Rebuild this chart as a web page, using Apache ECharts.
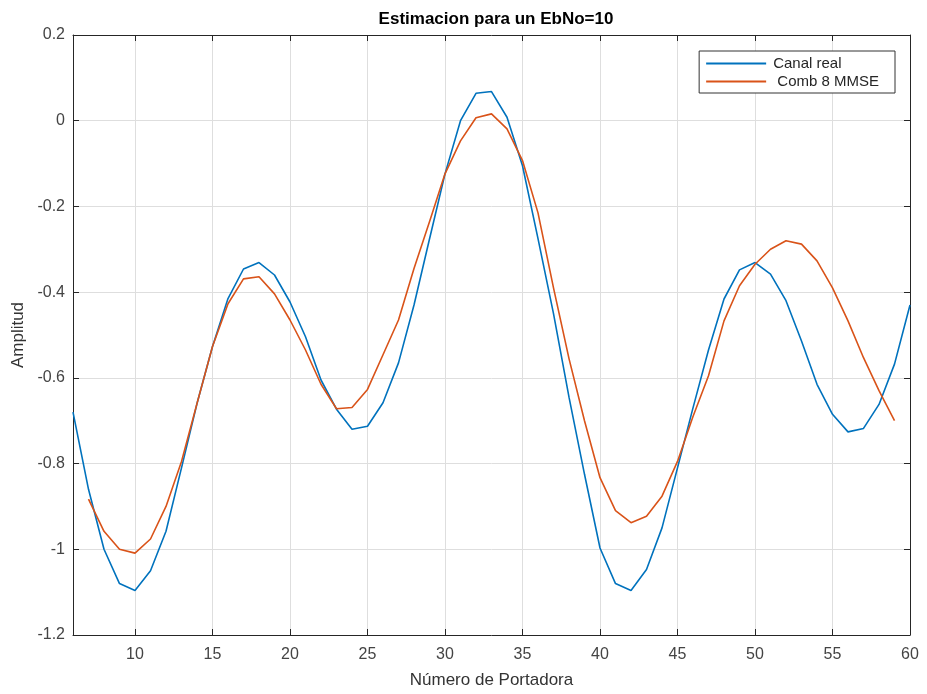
<!DOCTYPE html>
<html>
<head>
<meta charset="utf-8">
<title>Estimacion para un EbNo=10</title>
<script src="https://cdn.jsdelivr.net/npm/echarts@6/dist/echarts.min.js"></script>
<style>
  html, body { margin: 0; padding: 0; background: #fff; }
  #chart { width: 927px; height: 694px; }
</style>
</head>
<body>
<div id="chart"></div>
<script>
// portadoras (eje x)
var portReal = [6, 7, 8, 9, 10, 11, 12, 13, 14, 15, 16, 17, 18, 19, 20, 21, 22, 23, 24, 25, 26, 27, 28, 29, 30, 31, 32, 33,
  34, 35, 36, 37, 38, 39, 40, 41, 42, 43, 44, 45, 46, 47, 48, 49, 50, 51, 52, 53, 54, 55, 56, 57, 58, 59, 60];
var canalReal = [-0.68, -0.86, -1.0, -1.08, -1.096, -1.05, -0.958, -0.81, -0.66, -0.527, -0.415, -0.346, -0.331, -0.36,
  -0.423, -0.504, -0.605, -0.673, -0.72, -0.713, -0.658, -0.565, -0.43, -0.276, -0.124, 0.0, 0.064, 0.068, 0.008,
  -0.105, -0.275, -0.45, -0.645, -0.825, -0.997, -1.08, -1.096, -1.047, -0.95, -0.81, -0.67, -0.535, -0.416, -0.348,
  -0.331, -0.358, -0.42, -0.514, -0.615, -0.685, -0.726, -0.718, -0.662, -0.568, -0.43];

var portMmse = [7, 8, 9, 10, 11, 12, 13, 14, 15, 16, 17, 18, 19, 20, 21, 22, 23, 24, 25, 26, 27, 28, 29, 30, 31, 32, 33,
  34, 35, 36, 37, 38, 39, 40, 41, 42, 43, 44, 45, 46, 47, 48, 49, 50, 51, 52, 53, 54, 55, 56, 57, 58, 59];
var comb8Mmse = [-0.883, -0.958, -1.0, -1.009, -0.976, -0.9, -0.795, -0.66, -0.527, -0.427, -0.369, -0.364, -0.404,
  -0.465, -0.535, -0.615, -0.672, -0.669, -0.627, -0.546, -0.465, -0.345, -0.236, -0.124, -0.047, 0.007, 0.016, -0.019,
  -0.093, -0.215, -0.39, -0.555, -0.7, -0.833, -0.91, -0.938, -0.923, -0.876, -0.795, -0.69, -0.595, -0.467, -0.385,
  -0.335, -0.3, -0.28, -0.288, -0.327, -0.39, -0.467, -0.553, -0.63, -0.7];

var xTicks = [10, 15, 20, 25, 30, 35, 40, 45, 50, 55, 60];

var font = "'Liberation Sans', Arial, sans-serif";
var axisCol = '#262626';
var gridCol = '#dedede';

function pares(xs, ys) {
  return xs.map(function (x, i) { return [x, ys[i]]; });
}

var myChart = echarts.init(document.getElementById('chart'));

var option = {
  animation: false,
  backgroundColor: '#fff',
  title: {
    text: 'Estimacion para un EbNo=10',
    left: 491, top: 6, textAlign: 'center',
    textStyle: { fontFamily: font, fontSize: 17, fontWeight: 'bold', color: '#000' }
  },
  grid: { left: 73, top: 35, right: 17, bottom: 59, containLabel: false },
  legend: {
    orient: 'vertical',
    right: 32, top: 51,
    padding: [5, 16, 4, 7],
    itemGap: 3,
    itemWidth: 60, itemHeight: 2,
    icon: 'rect',
    backgroundColor: '#fff',
    borderColor: '#333', borderWidth: 1,
    textStyle: { fontFamily: font, fontSize: 15, color: '#262626', padding: [0, 0, 0, 2] },
    data: ['Canal real', ' Comb 8 MMSE']
  },
  xAxis: [
    {
      type: 'value', min: 6, max: 60,
      name: 'Número de Portadora', nameLocation: 'middle', nameGap: 37,
      nameTextStyle: { fontFamily: font, fontSize: 17, color: '#333' },
      axisLine: { onZero: false, lineStyle: { color: axisCol, width: 1 } },
      axisTick: { inside: true, length: 6, customValues: xTicks, lineStyle: { color: axisCol } },
      axisLabel: { customValues: xTicks, fontFamily: font, fontSize: 16, color: '#444', margin: 12 },
      splitLine: { show: true, lineStyle: { color: gridCol, width: 1 } }
    },
    {
      type: 'value', min: 6, max: 60, position: 'top',
      axisLine: { onZero: false, lineStyle: { color: axisCol, width: 1 } },
      axisTick: { inside: true, length: 6, customValues: xTicks, lineStyle: { color: axisCol } },
      axisLabel: { show: false },
      splitLine: { show: false }
    }
  ],
  yAxis: [
    {
      type: 'value', min: -1.2, max: 0.2, interval: 0.2,
      name: 'Amplitud', nameLocation: 'middle', nameGap: 46, nameRotate: 90,
      nameTextStyle: { fontFamily: font, fontSize: 17, color: '#333' },
      axisLine: { show: true, onZero: false, lineStyle: { color: axisCol, width: 1 } },
      axisTick: { show: true, inside: true, length: 6, lineStyle: { color: axisCol } },
      axisLabel: { fontFamily: font, fontSize: 16, color: '#444', margin: 8 },
      splitLine: { show: true, lineStyle: { color: gridCol, width: 1 } }
    },
    {
      type: 'value', min: -1.2, max: 0.2, interval: 0.2, position: 'right',
      axisLine: { show: true, onZero: false, lineStyle: { color: axisCol, width: 1 } },
      axisTick: { show: true, inside: true, length: 6, lineStyle: { color: axisCol } },
      axisLabel: { show: false },
      splitLine: { show: false }
    }
  ],
  series: [
    {
      name: 'Canal real', type: 'line',
      xAxisIndex: 0, yAxisIndex: 0,
      symbol: 'none',
      lineStyle: { color: '#0072BD', width: 1.6 },
      itemStyle: { color: '#0072BD' },
      data: pares(portReal, canalReal)
    },
    {
      name: ' Comb 8 MMSE', type: 'line',
      xAxisIndex: 0, yAxisIndex: 0,
      symbol: 'none',
      lineStyle: { color: '#D95319', width: 1.6 },
      itemStyle: { color: '#D95319' },
      data: pares(portMmse, comb8Mmse)
    }
  ]
};

myChart.setOption(option);
window.onresize = function () {
  myChart.resize();
};
</script>
</body>
</html>
